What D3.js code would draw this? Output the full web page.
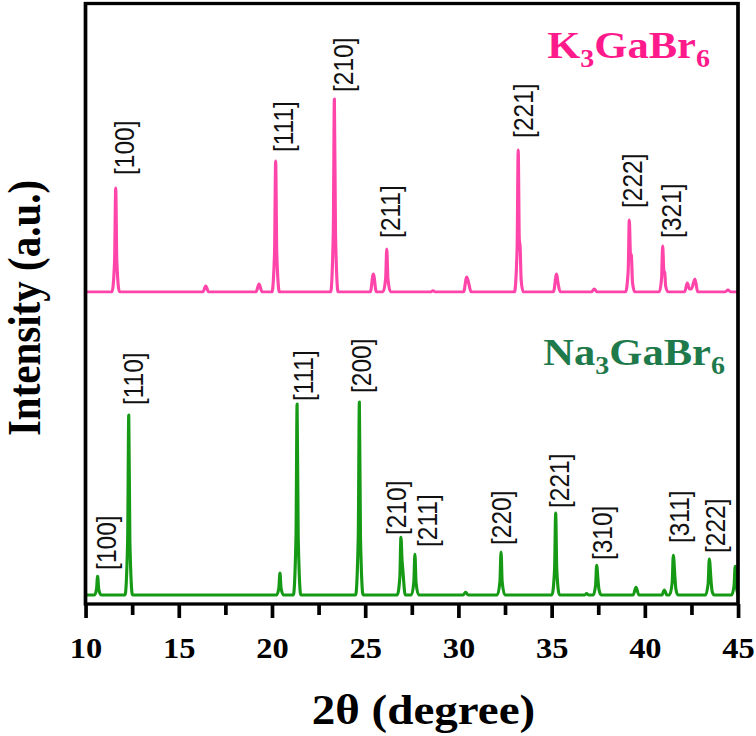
<!DOCTYPE html>
<html>
<head>
<meta charset="utf-8">
<script src="https://cdn.jsdelivr.net/npm/d3@7/dist/d3.min.js"></script>
<style>
  body { margin: 0; background: #fff; }
</style>
</head>
<body>
<div id="xrd"></div>
<script>
// XRD patterns: [2theta, relative intensity], strongest peak = 100
var kPattern = [
  [10, 0],
  [11.42, 0], [11.56, 16], [11.62, 53.9], [11.68, 16], [11.82, 0],
  [16.30, 0], [16.45, 3.1], [16.60, 0],
  [19.15, 0], [19.31, 4.1], [19.47, 0],
  [20.00, 0], [20.14, 20], [20.20, 67.9], [20.26, 20], [20.40, 0],
  [23.15, 0], [23.29, 30], [23.35, 100], [23.41, 30], [23.55, 0],
  [25.28, 0], [25.44, 9.3], [25.60, 0],
  [25.96, 0], [26.10, 7], [26.16, 22.3], [26.22, 7], [26.36, 0],
  [28.50, 0], [28.64, 0.6], [28.78, 0],
  [30.28, 0], [30.45, 7.8], [30.55, 4.7], [30.68, 0],
  [33.01, 0], [33.15, 22], [33.21, 73.6], [33.27, 27], [33.31, 24], [33.37, 6], [33.48, 0],
  [35.10, 0], [35.27, 9.3], [35.34, 5], [35.46, 0],
  [37.15, 0], [37.29, 1.6], [37.43, 0],
  [38.97, 0], [39.11, 11], [39.17, 37.3], [39.23, 20], [39.28, 19], [39.34, 5], [39.46, 0],
  [40.78, 0], [40.90, 7], [40.96, 23.8], [41.02, 11], [41.07, 10], [41.12, 3], [41.24, 0],
  [42.14, 0], [42.28, 4.7], [42.40, 1.5], [42.50, 1.5], [42.69, 6.7], [42.84, 0],
  [44.32, 0], [44.46, 1], [44.60, 0],
  [45, 0]
];
var naPattern = [
  [10, 0],
  [10.48, 0], [10.59, 3], [10.65, 9.8], [10.71, 3], [10.84, 0],
  [12.12, 0], [12.26, 28], [12.32, 93.3], [12.38, 28], [12.52, 0],
  [20.25, 0], [20.37, 3.5], [20.43, 11.4], [20.49, 3.5], [20.62, 0],
  [21.15, 0], [21.29, 30], [21.35, 99], [21.41, 30], [21.55, 0],
  [24.49, 0], [24.63, 30], [24.69, 100], [24.75, 30], [24.89, 0],
  [26.72, 0], [26.86, 9], [26.92, 30], [26.98, 18], [27.03, 12], [27.15, 0],
  [27.48, 0], [27.61, 6.5], [27.67, 21.2], [27.73, 6.5], [27.87, 0],
  [30.25, 0], [30.39, 1.5], [30.53, 0],
  [32.09, 0], [32.23, 7], [32.29, 22.3], [32.35, 7], [32.49, 0],
  [35.02, 0], [35.16, 13], [35.22, 42.5], [35.28, 13], [35.42, 0],
  [36.78, 0], [36.88, 0.8], [36.98, 0],
  [37.24, 0], [37.36, 5], [37.42, 15.5], [37.49, 7.8], [37.54, 3], [37.66, 0],
  [39.38, 0], [39.53, 4.1], [39.68, 0],
  [40.92, 0], [41.05, 2.6], [41.18, 0],
  [41.33, 0], [41.47, 6.5], [41.53, 20.7], [41.62, 8.8], [41.67, 3], [41.78, 0],
  [43.26, 0], [43.40, 6], [43.46, 18.7], [43.56, 6.7], [43.61, 2], [43.72, 0],
  [44.66, 0], [44.79, 5], [44.85, 15], [44.91, 5], [45, 0]
];

// peak labels: text, 2theta of label centre, intensity of label bottom
var kLabels   = ["[100]", "[111]", "[210]", "[211]", "[221]", "[222]", "[321]"];
var kLabelPos = [12.09, 20.58, 23.83, 26.33, 33.45, 39.30, 41.39];
var kLabelInt = [60.6, 72.5, 103.6, 28.0, 79.8, 43.5, 28.0];

var naLabels   = ["[100]", "[110]", "[111]", "[200]", "[210]", "[211]", "[220]", "[221]", "[310]", "[311]", "[222]"];
var naLabelPos = [11.12, 12.56, 21.68, 24.76, 26.64, 28.32, 32.32, 35.38, 37.69, 41.82, 43.77];
var naLabelInt = [13.0, 98.4, 100.5, 104.7, 31.1, 24.9, 25.9, 45.1, 18.1, 26.9, 21.8];

var majorTicks = [10, 15, 20, 25, 30, 35, 40, 45];
var minorTicks = [12.5, 17.5, 22.5, 27.5, 32.5, 37.5, 42.5];

// the original figure is stretched sideways, so draw in a narrower box and stretch it
var stretch = 1.12;
var W = 756 / stretch, H = 736;
var margin = {top: 3.5, left: 85.5 / stretch},
    width = 738 / stretch - margin.left,
    height = 604 - margin.top;

var svg = d3.select("#xrd")
  .append("svg")
    .attr("width", 756)
    .attr("height", 736)
    .attr("viewBox", "0 0 " + W + " " + H)
    .attr("preserveAspectRatio", "none");

var g = svg.append("g")
    .attr("transform", "translate(" + margin.left + "," + margin.top + ")");

var x = d3.scaleLinear().domain([10, 45]).range([0, width]);
// 100 units = 193 px
var y = d3.scaleLinear().domain([0, height / 1.93]).range([height, 0]);

var kOffset = 161.7, naOffset = 4.66;
var kColor = "#ff44aa", naColor = "#169a16";

function drawPattern(data, offset, color) {
  var line = d3.line()
      .x(function(d) { return x(d[0]); })
      .y(function(d) { return y(d[1] + offset); })
      .curve(d3.curveMonotoneX);
  g.append("path")
      .datum(data)
      .attr("fill", "none")
      .attr("stroke", color)
      .attr("stroke-width", 2.8)
      .attr("stroke-linejoin", "round")
      .attr("d", line);
}
drawPattern(kPattern, kOffset, kColor);
drawPattern(naPattern, naOffset, naColor);

function drawLabels(texts, pos, ints, offset) {
  texts.forEach(function(t, i) {
    g.append("text")
        .attr("transform", "translate(" + x(pos[i]) + "," + y(ints[i] + offset) + ")rotate(-90)")
        .attr("text-anchor", "start")
        .attr("dy", "0.36em")
        .style("font-family", "'Liberation Sans', Arial, sans-serif")
        .style("font-size", "24.5px")
        .style("fill", "#111")
        .text(t);
  });
}
drawLabels(kLabels, kLabelPos, kLabelInt, kOffset);
drawLabels(naLabels, naLabelPos, naLabelInt, naOffset);

// frame
g.append("rect")
    .attr("x", 0).attr("y", 0)
    .attr("width", width).attr("height", height)
    .attr("fill", "none")
    .attr("stroke", "#000")
    .attr("stroke-width", 3.3);

// bottom ticks
var minorAxis = g.append("g")
    .attr("transform", "translate(0," + height + ")")
    .call(d3.axisBottom(x).tickValues(minorTicks).tickSize(11).tickFormat(""));
var majorAxis = g.append("g")
    .attr("transform", "translate(0," + height + ")")
    .call(d3.axisBottom(x).tickValues(majorTicks).tickSize(14).tickFormat(d3.format("d")));
[minorAxis, majorAxis].forEach(function(a) {
  a.select(".domain").remove();
  a.selectAll(".tick line").attr("stroke", "#000").attr("stroke-width", 3.3);
});
majorAxis.selectAll(".tick text")
    .attr("y", 54)
    .attr("dy", null)
    .style("font-family", "'Liberation Serif', 'Times New Roman', serif")
    .style("font-weight", "bold")
    .style("font-size", "29px")
    .style("fill", "#000");

// axis titles
svg.append("text")
    .attr("x", 423.5 / stretch)
    .attr("y", 724)
    .attr("text-anchor", "middle")
    .style("font-family", "'Liberation Serif', 'Times New Roman', serif")
    .style("font-weight", "bold")
    .style("font-size", "42px")
    .text("2θ (degree)");

svg.append("text")
    .attr("transform", "translate(" + (24 / stretch) + ",308)rotate(-90)")
    .attr("text-anchor", "middle")
    .attr("dy", "0.35em")
    .style("font-family", "'Liberation Serif', 'Times New Roman', serif")
    .style("font-weight", "bold")
    .style("font-size", "41px")
    .text("Intensity (a.u.)");

// compound names with subscripts
function formula(xr, yb, parts, color) {
  var t = svg.append("text")
      .attr("x", xr / stretch)
      .attr("y", yb)
      .attr("text-anchor", "end")
      .style("font-family", "'Liberation Serif', 'Times New Roman', serif")
      .style("font-weight", "bold")
      .style("font-size", "38px")
      .style("fill", color);
  parts.forEach(function(p) {
    var s = t.append("tspan").text(p[0]);
    if (p[1]) s.style("font-size", "25px").attr("dy", 9);
    else if (p[2]) s.attr("dy", -9);
  });
}
formula(710, 58, [["K"], ["3", true], ["GaBr", false, true], ["6", true]], "#ff1a8c");
formula(725, 365, [["Na"], ["3", true], ["GaBr", false, true], ["6", true]], "#1f7a4b");
</script>
</body>
</html>
